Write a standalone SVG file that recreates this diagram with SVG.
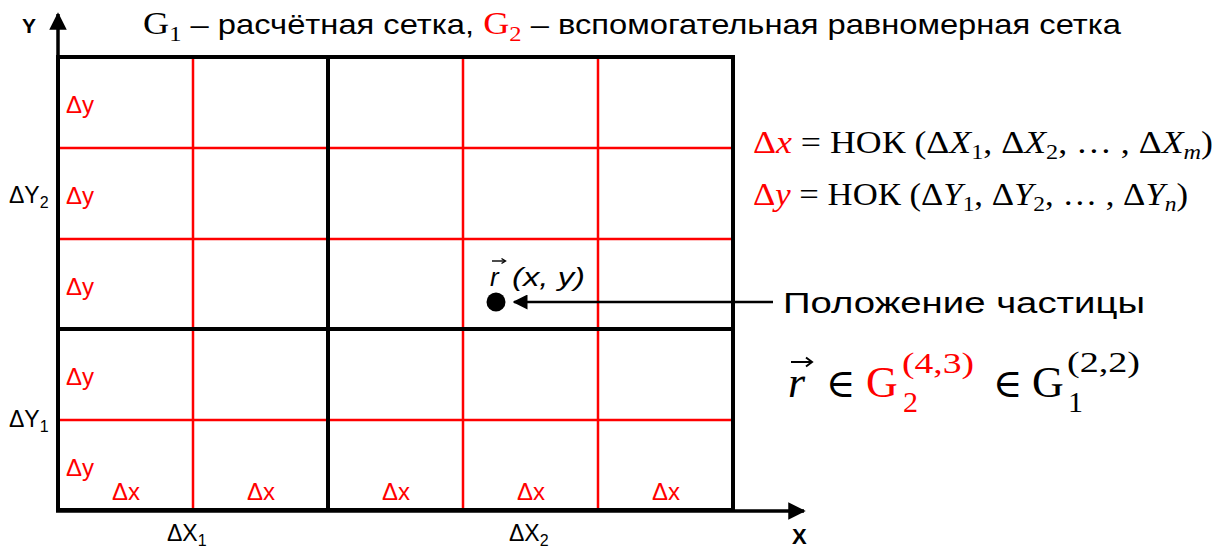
<svg xmlns="http://www.w3.org/2000/svg" width="1228" height="550" viewBox="0 0 1228 550">
<defs>
<style>
.sans{font-family:"Liberation Sans","DejaVu Sans",sans-serif}
.serif{font-family:"Liberation Serif","DejaVu Serif",serif}
.red{fill:#ff0000}
.rl{stroke:#ff0000;stroke-width:2.5;fill:none}
.bl{stroke:#000;stroke-width:4;fill:none}
.lbl{font-family:"Liberation Sans",sans-serif;font-size:24px;fill:#ff0000}
.ax{font-family:"Liberation Sans",sans-serif;font-size:23px;fill:#000}
</style>
<marker id="ah" viewBox="0 0 10 10" refX="9" refY="5" markerWidth="5" markerHeight="5" orient="auto" markerUnits="strokeWidth">
<path d="M0,0 L10,5 L0,10 z" fill="#000"/>
</marker>
<marker id="ah2" viewBox="0 0 10 10" refX="9" refY="5" markerWidth="6" markerHeight="6" orient="auto" markerUnits="strokeWidth">
<path d="M0,0 L10,5 L0,10 z" fill="#000"/>
</marker>
</defs>
<rect width="1228" height="550" fill="#fff"/>

<g id="title">
<text x="143" y="34" font-size="28" class="sans" textLength="978" lengthAdjust="spacingAndGlyphs"><tspan class="serif" font-size="31">G</tspan><tspan class="serif" font-size="21" dy="7">1</tspan><tspan dy="-7"> – расчётная сетка, </tspan><tspan class="serif red" font-size="31">G</tspan><tspan class="serif red" font-size="21" dy="7">2</tspan><tspan dy="-7"> – вспомогательная равномерная сетка</tspan></text>
</g>

<g id="grid-red">
<line class="rl" x1="193" y1="57" x2="193" y2="510"/>
<line class="rl" x1="463" y1="57" x2="463" y2="510"/>
<line class="rl" x1="598" y1="57" x2="598" y2="510"/>
<line class="rl" x1="58" y1="148" x2="733" y2="148"/>
<line class="rl" x1="58" y1="239" x2="733" y2="239"/>
<line class="rl" x1="58" y1="420" x2="733" y2="420"/>
</g>
<g id="grid-black">
<rect class="bl" x="58" y="57" width="675" height="453"/>
<line class="bl" x1="328" y1="57" x2="328" y2="510"/>
<line class="bl" x1="58" y1="329" x2="733" y2="329"/>
</g>

<g id="axes">
<line x1="58" y1="512" x2="58" y2="14" stroke="#000" stroke-width="3.5" marker-end="url(#ah)"/>
<line x1="56" y1="511" x2="804" y2="511" stroke="#000" stroke-width="3.5" marker-end="url(#ah)"/>
<text x="22" y="33" font-family="Liberation Sans,sans-serif" font-weight="bold" font-size="21">Y</text>
<text x="792" y="544" font-family="Liberation Sans,sans-serif" font-weight="bold" font-size="22">X</text>
</g>

<g id="dy-labels">
<text class="lbl" x="66" y="113">Δy</text>
<text class="lbl" x="66" y="204">Δy</text>
<text class="lbl" x="66" y="295">Δy</text>
<text class="lbl" x="66" y="385">Δy</text>
<text class="lbl" x="66" y="476">Δy</text>
</g>
<g id="dx-labels" text-anchor="middle">
<text class="lbl" x="126" y="500">Δx</text>
<text class="lbl" x="261" y="500">Δx</text>
<text class="lbl" x="396" y="500">Δx</text>
<text class="lbl" x="531" y="500">Δx</text>
<text class="lbl" x="666" y="500">Δx</text>
</g>
<g id="axis-labels">
<text class="ax" x="9" y="203">ΔY<tspan font-size="16" dy="5">2</tspan></text>
<text class="ax" x="9" y="427">ΔY<tspan font-size="16" dy="5">1</tspan></text>
<text class="ax" x="167" y="541">ΔX<tspan font-size="16" dy="5">1</tspan></text>
<text class="ax" x="509" y="541">ΔX<tspan font-size="16" dy="5">2</tspan></text>
</g>

<g id="formulas">
<text x="753" y="153" class="serif" font-size="31" textLength="460" lengthAdjust="spacingAndGlyphs"><tspan class="red">Δ<tspan font-style="italic">x</tspan></tspan> = НОК (Δ<tspan font-style="italic">X</tspan><tspan font-size="21" dy="6">1</tspan><tspan dy="-6">, Δ</tspan><tspan font-style="italic">X</tspan><tspan font-size="21" dy="6">2</tspan><tspan dy="-6">, … , Δ</tspan><tspan font-style="italic">X</tspan><tspan font-size="21" dy="6" font-style="italic">m</tspan><tspan dy="-6">)</tspan></text>
<text x="753" y="205" class="serif" font-size="31" textLength="435" lengthAdjust="spacingAndGlyphs"><tspan class="red">Δ<tspan font-style="italic">y</tspan></tspan> = НОК (Δ<tspan font-style="italic">Y</tspan><tspan font-size="21" dy="6">1</tspan><tspan dy="-6">, Δ</tspan><tspan font-style="italic">Y</tspan><tspan font-size="21" dy="6">2</tspan><tspan dy="-6">, … , Δ</tspan><tspan font-style="italic">Y</tspan><tspan font-size="21" dy="6" font-style="italic">n</tspan><tspan dy="-6">)</tspan></text>
</g>

<g id="particle">
<circle cx="496" cy="302" r="9.5" fill="#000"/>
<text x="490" y="286" font-family="Liberation Sans,sans-serif" font-style="italic" font-size="26">r</text>
<text x="512" y="286" font-family="Liberation Sans,sans-serif" font-style="italic" font-size="26" textLength="73" lengthAdjust="spacingAndGlyphs">(x, y)</text>
<path d="M492,261 L505,261" stroke="#000" stroke-width="1.4" fill="none"/>
<path d="M501.5,258.5 L505.5,261 L501.5,263.5" stroke="#000" stroke-width="1.4" fill="none"/>
</g>
<g id="connectors">
<line x1="773" y1="302" x2="514" y2="302" stroke="#000" stroke-width="2.5" marker-end="url(#ah2)"/>
</g>
<g id="particle-label">
<text x="783" y="313" font-family="Liberation Sans,sans-serif" font-size="30" textLength="362" lengthAdjust="spacingAndGlyphs">Положение частицы</text>
</g>

<g id="membership" class="serif">
<text x="788" y="397" font-size="44" font-style="italic">r</text>
<path d="M791,362 L811,362" stroke="#000" stroke-width="2" fill="none"/>
<path d="M806,357.5 L812,362 L806,366.5" stroke="#000" stroke-width="2" fill="none"/>
<text x="826" y="397" font-size="40">∈</text>
<text x="866" y="397" font-size="44" class="red">G</text>
<text x="903" y="412" font-size="30" class="red">2</text>
<text x="902" y="373" font-size="30" class="red" textLength="72" lengthAdjust="spacingAndGlyphs">(4,3)</text>
<text x="993" y="397" font-size="40">∈</text>
<text x="1032" y="397" font-size="44">G</text>
<text x="1068" y="412" font-size="30">1</text>
<text x="1067" y="372" font-size="30" textLength="73" lengthAdjust="spacingAndGlyphs">(2,2)</text>
</g>
</svg>
